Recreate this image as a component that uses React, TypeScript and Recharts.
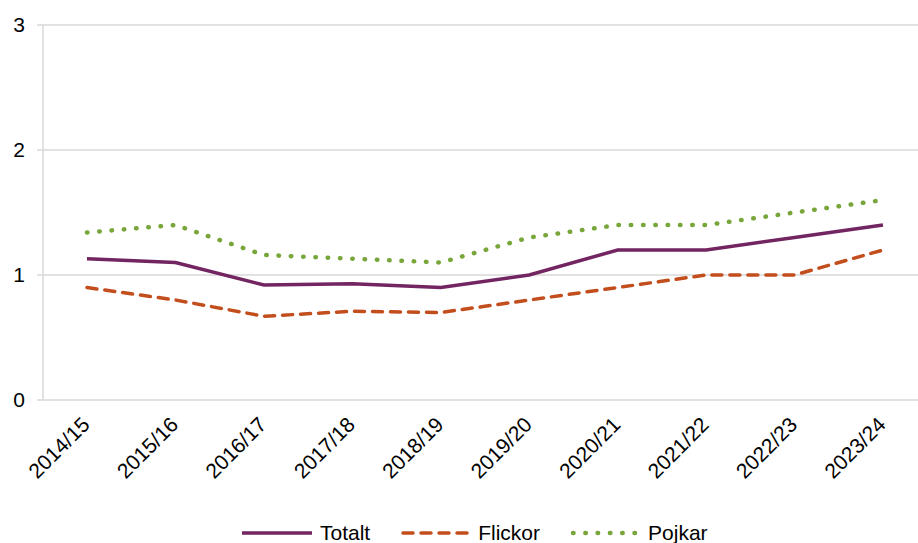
import { CartesianGrid, Legend, Line, LineChart, XAxis, YAxis } from 'recharts'

const seasons = ['2014/15', '2015/16', '2016/17', '2017/18', '2018/19', '2019/20', '2020/21', '2021/22', '2022/23', '2023/24']
const totalt = [1.13, 1.1, 0.92, 0.93, 0.9, 1.0, 1.2, 1.2, 1.3, 1.4]
const flickor = [0.9, 0.8, 0.67, 0.71, 0.7, 0.8, 0.9, 1.0, 1.0, 1.2]
const pojkar = [1.34, 1.4, 1.16, 1.13, 1.1, 1.3, 1.4, 1.4, 1.5, 1.6]
const yTicks = [0, 1, 2, 3]

const FONT = '"Liberation Sans", Arial, sans-serif'
const GRID = '#D9D9D9'

const series = [
  { key: 'totalt', name: 'Totalt', color: '#722560', width: 3.5, dash: undefined as string | undefined, cap: 'butt' as const },
  { key: 'flickor', name: 'Flickor', color: '#C34E1D', width: 3.5, dash: '10 8', cap: 'round' as const },
  { key: 'pojkar', name: 'Pojkar', color: '#78A63B', width: 4.5, dash: '0.5 11.8', cap: 'round' as const },
]

const data = seasons.map((season, i) => ({
  season,
  totalt: totalt[i],
  flickor: flickor[i],
  pojkar: pojkar[i],
}))

const SeasonTick = ({ x, y, payload }: any) => (
  <text
    x={x + 4}
    y={y}
    transform={`rotate(-45 ${x + 4} ${y})`}
    textAnchor="end"
    fontSize={21}
    fontFamily={FONT}
    fill="#000"
  >
    {payload.value}
  </text>
)

const ChartLegend = () => (
  <div style={{ display: 'flex', alignItems: 'center', height: 30, paddingLeft: 242, fontFamily: FONT, fontSize: 21 }}>
    {series.map((s) => (
      <div key={s.key} style={{ display: 'flex', alignItems: 'center', marginRight: 30 }}>
        <svg width={70} height={10} style={{ marginRight: 8 }}>
          <line
            x1={s.cap === 'round' ? 3 : 0}
            y1={5}
            x2={s.cap === 'round' ? 67 : 70}
            y2={5}
            stroke={s.color}
            strokeWidth={s.width}
            strokeDasharray={s.dash}
            strokeLinecap={s.cap}
          />
        </svg>
        <span style={{ color: '#000' }}>{s.name}</span>
      </div>
    ))}
  </div>
)

export default function App() {
  return (
    <div style={{ position: 'absolute', left: 0, top: 0, width: 918, height: 543, background: '#fff', overflow: 'hidden' }}>
      <LineChart width={918} height={543} data={data} margin={{ top: 25, right: 0, bottom: 0, left: 0 }}>
        <CartesianGrid vertical={false} stroke={GRID} strokeWidth={1.5} />
        <XAxis
          dataKey="season"
          axisLine={false}
          tickLine={false}
          height={113}
          interval={0}
          padding={{ left: 44, right: 35 }}
          tick={<SeasonTick />}
          tickMargin={20}
        />
        <YAxis
          domain={[0, 3]}
          ticks={yTicks}
          width={43}
          axisLine={{ stroke: GRID, strokeWidth: 1.5 }}
          tickLine={{ stroke: GRID, strokeWidth: 1.5 }}
          tickSize={6}
          tickMargin={12}
          tick={{ fill: '#000', fontSize: 21, fontFamily: FONT }}
        />
        <Legend verticalAlign="bottom" content={<ChartLegend />} wrapperStyle={{ bottom: -5 }} />
        {series.map((s) => (
          <Line
            key={s.key}
            type="linear"
            dataKey={s.key}
            name={s.name}
            stroke={s.color}
            strokeWidth={s.width}
            strokeDasharray={s.dash}
            strokeLinecap={s.cap}
            dot={false}
            activeDot={false}
            isAnimationActive={false}
          />
        ))}
      </LineChart>
    </div>
  )
}
